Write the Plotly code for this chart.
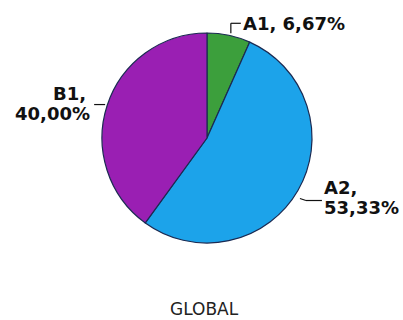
import math
import plotly.graph_objects as go

labels = ["A1", "A2", "B1"]
values = [6.67, 53.33, 40.00]
colors = ["#3c9f3c", "#1ca3ea", "#9a1fb3"]
title_text = "GLOBAL"

W, H = 403, 320
cx, cy, R = 207, 138, 105  # pie centre / radius in pixels

def px(x):
    return x / W

def py(y):
    return 1 - y / H

fig = go.Figure(go.Pie(
    labels=labels, values=values, sort=False, direction="clockwise", rotation=0,
    marker=dict(colors=colors, line=dict(color="#1b2a52", width=1.2)),
    textinfo="none", hoverinfo="label+percent", showlegend=False,
    domain=dict(x=[px(cx - R), px(cx + R)], y=[py(cy + R), py(cy - R)]),
))

total = sum(values)
start = 0.0
shapes, annots = [], []
font = dict(family="DejaVu Sans", size=18, color="#111111", weight="bold")
LH = 20  # line spacing of two-line labels, px

def add_text(text, x, y, xa):
    annots.append(dict(text=text, x=px(x), y=py(y), xref="paper", yref="paper",
                       xanchor=xa, yanchor="middle", align=xa, showarrow=False,
                       borderpad=0, font=font))

for lab, v in zip(labels, values):
    frac = v / total
    mid = (start + frac / 2) * 2 * math.pi
    start += frac
    pct = f"{frac * 100:.2f}".replace(".", ",") + "%"
    ax = cx + R * math.sin(mid)
    ay = cy - R * math.cos(mid)
    line = dict(color="#111111", width=1.2)
    if math.sin(mid) > 0 and math.cos(mid) > 0.5:
        # top: elbow up then right
        pts = [(ax + 2, ay - 2), (ax + 2, ay - 12), (ax + 12, ay - 12)]
        add_text(f"{lab}, {pct}", ax + 13, ay - 12, "left")
    elif math.sin(mid) > 0:
        pts = [(ax + 2, ay + 8), (ax + 8, ay + 10), (ax + 24, ay + 10)]
        add_text(f"{lab},", ax + 25, ay + 7 - LH / 2, "left")
        add_text(pct, ax + 25, ay + 7 + LH / 2, "left")
    else:
        pts = [(ax - 2, ay - 1), (ax - 13, ay - 1)]
        add_text(f"{lab},", ax - 20, ay - 2 - LH / 2, "right")
        add_text(pct, ax - 16, ay - 2 + LH / 2, "right")
    for (x0, y0), (x1, y1) in zip(pts[:-1], pts[1:]):
        shapes.append(dict(type="line", xref="paper", yref="paper",
                           x0=px(x0), y0=py(y0), x1=px(x1), y1=py(y1), line=line))

annots.append(dict(text=title_text, x=px(204), y=py(309), xref="paper", yref="paper",
                   xanchor="center", yanchor="middle", showarrow=False,
                   font=dict(family="DejaVu Sans", size=17, color="#222222")))

fig.update_layout(width=W, height=H, margin=dict(l=0, r=0, t=0, b=0),
                  paper_bgcolor="white", plot_bgcolor="white",
                  shapes=shapes, annotations=annots)
fig.write_html("out.html")
